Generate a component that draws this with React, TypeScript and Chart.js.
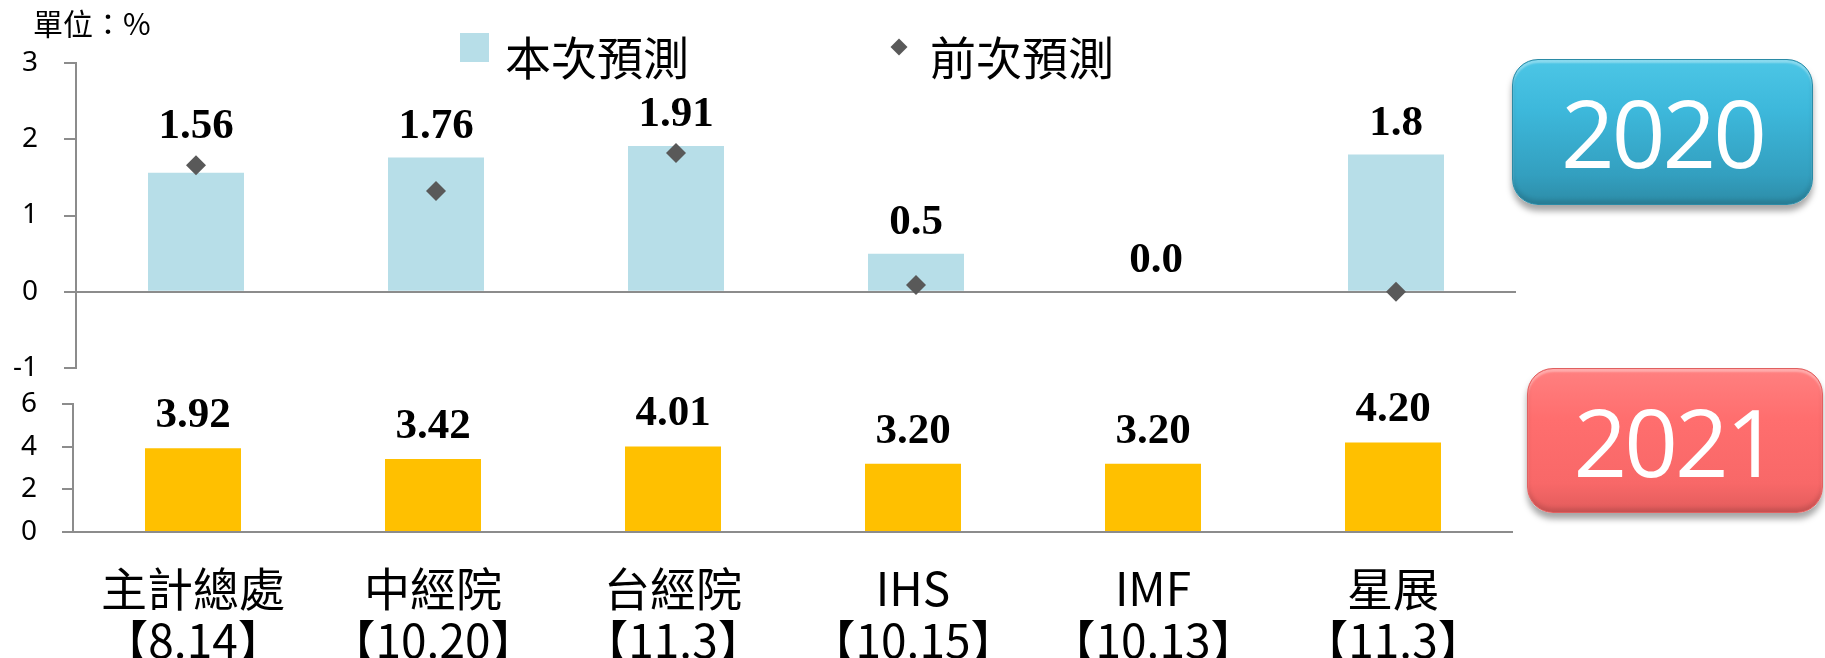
import React, { useEffect, useRef } from 'react';
import { Chart, registerables } from 'chart.js';

Chart.register(...registerables);

// ---------- data ----------
const agencies = ['主計總處', '中經院', '台經院', 'IHS', 'IMF', '星展'];
const releaseDates = ['【8.14】', '【10.20】', '【11.3】', '【10.15】', '【10.13】', '【11.3】'];

const forecast2020 = [1.56, 1.76, 1.91, 0.5, 0.0, 1.8];
const forecast2020Text = ['1.56', '1.76', '1.91', '0.5', '0.0', '1.8'];
const previous2020: (number | null)[] = [1.66, 1.32, 1.82, 0.09, null, 0.0];

const forecast2021 = [3.92, 3.42, 4.01, 3.2, 3.2, 4.2];
const forecast2021Text = ['3.92', '3.42', '4.01', '3.20', '3.20', '4.20'];

const yTicks2020 = [-1, 0, 1, 2, 3];
const yTicks2021 = [0, 2, 4, 6];

const legendLabels = ['本次預測', '前次預測'];
const unitText = '單位：%';
const yearBadges = ['2020', '2021'];

// ---------- styles ----------
const AXIS = '#8C8C8C';
const BAR_2020 = '#B7DEE8';
const BAR_2021 = '#FFC000';
const DIAMOND = '#595959';
const CJK = '"Noto Sans CJK TC", "Noto Sans", sans-serif';

const makeValueLabels = (texts: string[], gap: number) => ({
  id: 'valueLabels',
  afterDatasetsDraw(chart: any) {
    const ctx = chart.ctx;
    const bars = chart.getDatasetMeta(0).data;
    const hasPrev = chart.data.datasets.length > 1;
    const marks = hasPrev ? chart.getDatasetMeta(1).data : [];
    const prevVals = hasPrev ? chart.data.datasets[1].data : [];
    ctx.save();
    ctx.font = 'bold 43px "Liberation Serif", "Times New Roman", serif';
    ctx.fillStyle = '#000';
    ctx.textAlign = 'center';
    ctx.textBaseline = 'alphabetic';
    bars.forEach((bar: any, i: number) => {
      let y = bar.y - gap;
      const p = marks[i];
      if (p && prevVals[i] != null && isFinite(p.y)) y = Math.min(y, p.y - 27);
      ctx.fillText(texts[i], bar.x, y);
    });
    ctx.restore();
  },
});

const noScalePadding = (s: any) => {
  s.paddingTop = 0;
  s.paddingBottom = 0;
  s.paddingLeft = 0;
  s.paddingRight = 0;
};

export default function App() {
  const topRef = useRef<HTMLCanvasElement>(null);
  const botRef = useRef<HTMLCanvasElement>(null);

  useEffect(() => {
    const top = new Chart(topRef.current as HTMLCanvasElement, {
      type: 'bar',
      data: {
        labels: agencies,
        datasets: [
          {
            type: 'bar',
            label: legendLabels[0],
            data: forecast2020,
            backgroundColor: BAR_2020,
            barPercentage: 0.4,
            categoryPercentage: 1,
            order: 2,
          },
          {
            type: 'line',
            label: legendLabels[1],
            data: previous2020,
            showLine: false,
            pointStyle: 'rectRot',
            pointRadius: 10,
            pointBackgroundColor: DIAMOND,
            pointBorderWidth: 0,
            order: 1,
          } as any,
        ],
      },
      options: {
        responsive: false,
        animation: false,
        devicePixelRatio: 1,
        layout: { autoPadding: false, padding: { top: 63, bottom: 12, left: 0, right: 0 } },
        plugins: { legend: { display: false }, tooltip: { enabled: false } },
        scales: {
          x: { display: false },
          y: {
            min: yTicks2020[0],
            max: yTicks2020[yTicks2020.length - 1],
            afterFit: (s: any) => { s.width = 76; noScalePadding(s); },
            ticks: {
              stepSize: yTicks2020[1] - yTicks2020[0],
              padding: 26,
              color: '#000',
              font: { size: 28, family: '"Noto Sans", sans-serif' },
            },
            grid: {
              drawOnChartArea: true,
              tickLength: 12,
              tickColor: AXIS,
              color: (c: any) => (c.tick && c.tick.value === 0 ? AXIS : 'rgba(0,0,0,0)'),
              lineWidth: 2,
            },
            border: { display: true, color: AXIS, width: 2 },
          },
        },
      },
      plugins: [makeValueLabels(forecast2020Text, 20)],
    });

    const bot = new Chart(botRef.current as HTMLCanvasElement, {
      type: 'bar',
      data: {
        labels: agencies.map((a, i) => [a, releaseDates[i]]),
        datasets: [
          {
            label: '2021',
            data: forecast2021,
            backgroundColor: BAR_2021,
            barPercentage: 0.4,
            categoryPercentage: 1,
          },
        ],
      },
      options: {
        responsive: false,
        animation: false,
        devicePixelRatio: 1,
        layout: { autoPadding: false, padding: { top: 24, bottom: 0, left: 0, right: 0 } },
        plugins: { legend: { display: false }, tooltip: { enabled: false } },
        scales: {
          x: {
            afterFit: (s: any) => { s.height = 126; noScalePadding(s); },
            grid: { display: false, drawTicks: false },
            border: { display: true, color: AXIS, width: 2 },
            ticks: {
              autoSkip: false,
              maxRotation: 0,
              minRotation: 0,
              padding: 31,
              color: '#000',
              font: { size: 46, family: CJK, lineHeight: 1.13 },
            },
          },
          y: {
            min: yTicks2021[0],
            max: yTicks2021[yTicks2021.length - 1],
            afterFit: (s: any) => { s.width = 73; noScalePadding(s); },
            ticks: {
              stepSize: yTicks2021[1] - yTicks2021[0],
              padding: 25,
              color: '#000',
              font: { size: 28, family: '"Noto Sans", sans-serif' },
            },
            grid: { drawOnChartArea: false, tickLength: 11, color: AXIS, lineWidth: 2 },
            border: { display: true, color: AXIS, width: 2 },
          },
        },
      },
      plugins: [makeValueLabels(forecast2021Text, 21)],
    });

    return () => {
      top.destroy();
      bot.destroy();
    };
  }, []);

  const badge = (text: string, left: number, top: number, w: number, h: number, grad: string, border: string) => (
    <div
      style={{
        position: 'absolute',
        left,
        top,
        width: w,
        height: h,
        borderRadius: 26,
        background: grad,
        border: `1px solid ${border}`,
        boxSizing: 'border-box',
        boxShadow: '0 6px 6px rgba(0,0,0,0.35), inset 0 3px 2px rgba(255,255,255,0.35), inset 0 -4px 4px rgba(0,0,0,0.12)',
        display: 'flex',
        alignItems: 'center',
        justifyContent: 'center',
        color: '#fff',
        fontFamily: '"Open Sans", "Noto Sans", sans-serif',
        fontSize: 94,
        lineHeight: 1,
        letterSpacing: -3,
      }}
    >
      {text}
    </div>
  );

  return (
    <div style={{ position: 'absolute', left: 0, top: 0, width: 1825, height: 658, overflow: 'hidden', background: '#fff' }}>
      <canvas ref={topRef} width={1516} height={380} style={{ position: 'absolute', left: 0, top: 0, width: 1516, height: 380 }} />
      <canvas ref={botRef} width={1513} height={278} style={{ position: 'absolute', left: 0, top: 380, width: 1513, height: 278 }} />

      <div style={{ position: 'absolute', left: 33, top: 7, fontFamily: CJK, fontSize: 30, lineHeight: '30px', color: '#000', whiteSpace: 'nowrap' }}>
        {unitText}
      </div>

      <div style={{ position: 'absolute', left: 460, top: 33, width: 29, height: 29, background: BAR_2020 }} />
      <div style={{ position: 'absolute', left: 505, top: 32, fontFamily: CJK, fontSize: 46, lineHeight: '46px', color: '#000', whiteSpace: 'nowrap' }}>
        {legendLabels[0]}
      </div>
      <div style={{ position: 'absolute', left: 893, top: 41, width: 12, height: 12, background: DIAMOND, transform: 'rotate(45deg)' }} />
      <div style={{ position: 'absolute', left: 930, top: 32, fontFamily: CJK, fontSize: 46, lineHeight: '46px', color: '#000', whiteSpace: 'nowrap' }}>
        {legendLabels[1]}
      </div>

      {badge(yearBadges[0], 1512, 59, 301, 146, 'linear-gradient(#4CC6E6 0%, #3DB8DB 35%, #339FBF 80%, #2D8CA7 100%)', '#2B8BA6')}
      {badge(yearBadges[1], 1527, 368, 296, 145, 'linear-gradient(#FF8080 0%, #FF6E6E 35%, #F86868 80%, #E25C5C 100%)', '#E06060')}
    </div>
  );
}
